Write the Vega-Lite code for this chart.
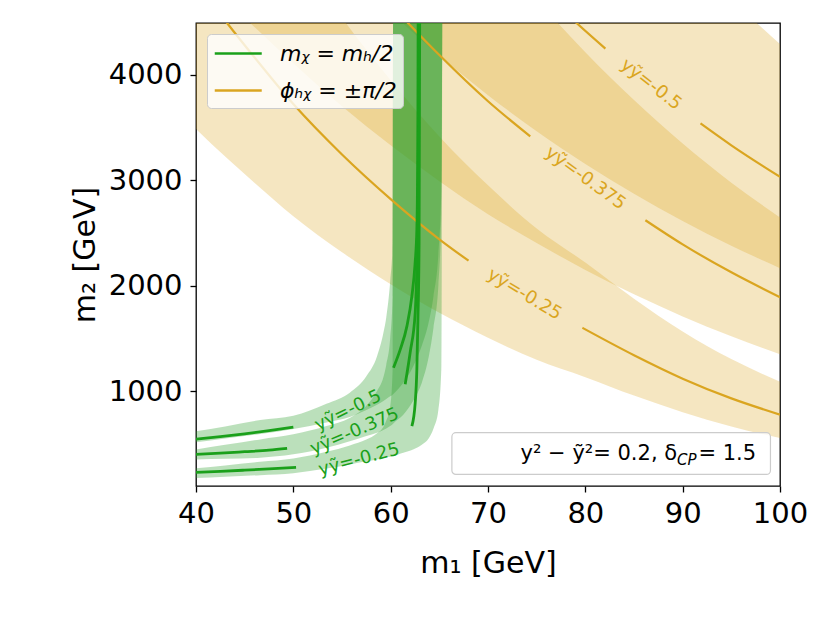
{
  "$schema": "https://vega.github.io/schema/vega-lite/v6.json",
  "width": 584,
  "height": 463,
  "autosize": {"type": "none"},
  "padding": {"left": 196, "top": 23, "right": 50, "bottom": 137},
  "background": "white",
  "config": {
    "font": "DejaVu Sans",
    "view": {"stroke": "black", "strokeWidth": 1.3},
    "axis": {
      "domain": false, "grid": false, "tickColor": "black", "tickWidth": 1.3, "tickSize": 6,
      "labelFont": "DejaVu Sans", "labelFontSize": 29, "labelColor": "black", "labelFlush": false,
      "titleFont": "DejaVu Sans", "titleFontSize": 30, "titleFontWeight": "normal", "titleColor": "black"
    },
    "axisX": {"labelPadding": 7, "titlePadding": 20},
    "axisY": {"labelPadding": 8, "titlePadding": 8},
    "legend": {
      "orient": "top-left", "offset": 11, "padding": 6, "title": null,
      "fillColor": "rgba(255,255,255,0.8)", "strokeColor": "#cccccc", "cornerRadius": 4,
      "labelFont": "DejaVu Sans", "labelFontSize": 22, "labelFontStyle": "italic", "labelColor": "black", "labelOffset": 40,
      "symbolType": "M-1,0H3", "symbolStrokeWidth": 2.6, "symbolSize": 552, "rowPadding": 12
    }
  },
  "datasets": {
    "obands": [
      {"b": "o1", "x": 40, "y": 3486, "y2": 6832}, {"b": "o1", "x": 43.25, "y": 3202, "y2": 6276},
      {"b": "o1", "x": 46, "y": 2975, "y2": 5831}, {"b": "o1", "x": 50, "y": 2658, "y2": 5209},
      {"b": "o1", "x": 55, "y": 2316, "y2": 4540}, {"b": "o1", "x": 60, "y": 2014, "y2": 3948},
      {"b": "o1", "x": 65, "y": 1742, "y2": 3415}, {"b": "o1", "x": 70, "y": 1506, "y2": 2951},
      {"b": "o1", "x": 75, "y": 1297, "y2": 2542}, {"b": "o1", "x": 80, "y": 1132, "y2": 2219},
      {"b": "o1", "x": 85, "y": 957, "y2": 1876}, {"b": "o1", "x": 90, "y": 799, "y2": 1565},
      {"b": "o1", "x": 95, "y": 665, "y2": 1303}, {"b": "o1", "x": 100, "y": 555, "y2": 1088},
      {"b": "o2", "x": 40, "y": 4957, "y2": 9716}, {"b": "o2", "x": 45, "y": 4538, "y2": 8894},
      {"b": "o2", "x": 50, "y": 4109, "y2": 8053}, {"b": "o2", "x": 55, "y": 3701, "y2": 7255},
      {"b": "o2", "x": 60, "y": 3331, "y2": 6528}, {"b": "o2", "x": 65, "y": 2990, "y2": 5860},
      {"b": "o2", "x": 70, "y": 2677, "y2": 5247}, {"b": "o2", "x": 75, "y": 2404, "y2": 4712},
      {"b": "o2", "x": 80, "y": 2149, "y2": 4213}, {"b": "o2", "x": 85, "y": 1918, "y2": 3759},
      {"b": "o2", "x": 90, "y": 1708, "y2": 3347}, {"b": "o2", "x": 95, "y": 1519, "y2": 2976},
      {"b": "o2", "x": 100, "y": 1350, "y2": 2646},
      {"b": "o3", "x": 55, "y": 5045, "y2": 9990}, {"b": "o3", "x": 60, "y": 4593, "y2": 9100},
      {"b": "o3", "x": 65, "y": 4181, "y2": 8280}, {"b": "o3", "x": 70, "y": 3806, "y2": 7540},
      {"b": "o3", "x": 75, "y": 3464, "y2": 6860}, {"b": "o3", "x": 80, "y": 3154, "y2": 6250},
      {"b": "o3", "x": 85, "y": 2871, "y2": 5690}, {"b": "o3", "x": 90, "y": 2613, "y2": 5180},
      {"b": "o3", "x": 95, "y": 2379, "y2": 4715}, {"b": "o3", "x": 100, "y": 2165, "y2": 4290}
    ],
    "gbands": [
      {"b": "g1", "x": 40, "y": 514, "y2": 620}, {"b": "g1", "x": 43, "y": 550, "y2": 665},
      {"b": "g1", "x": 46.6, "y": 593, "y2": 725}, {"b": "g1", "x": 50, "y": 640, "y2": 765},
      {"b": "g1", "x": 53.4, "y": 703, "y2": 880}, {"b": "g1", "x": 55.8, "y": 755, "y2": 985},
      {"b": "g1", "x": 57.5, "y": 820, "y2": 1140}, {"b": "g1", "x": 58.6, "y": 870, "y2": 1330},
      {"b": "g1", "x": 59.25, "y": 905, "y2": 1550}, {"b": "g1", "x": 59.55, "y": 925, "y2": 1700},
      {"b": "g1", "x": 59.95, "y": 950, "y2": 2040}, {"b": "g1", "x": 60.2, "y": 965, "y2": 2400},
      {"b": "g1", "x": 60.25, "y": 970, "y2": 4500}, {"b": "g1", "x": 61.3, "y": 1080, "y2": 4500},
      {"b": "g1", "x": 62.3, "y": 1230, "y2": 4500}, {"b": "g1", "x": 63.2, "y": 1430, "y2": 4500},
      {"b": "g1", "x": 63.9, "y": 1650, "y2": 4500}, {"b": "g1", "x": 64.4, "y": 1900, "y2": 4500},
      {"b": "g1", "x": 64.9, "y": 2300, "y2": 4500}, {"b": "g1", "x": 65.2, "y": 2900, "y2": 4500},
      {"b": "g1", "x": 65.3, "y": 4500, "y2": 4500},
      {"b": "g2", "x": 40, "y": 352, "y2": 447}, {"b": "g2", "x": 43, "y": 358, "y2": 490},
      {"b": "g2", "x": 46.6, "y": 368, "y2": 542}, {"b": "g2", "x": 50, "y": 400, "y2": 590},
      {"b": "g2", "x": 53.4, "y": 462, "y2": 669}, {"b": "g2", "x": 55.8, "y": 525, "y2": 745},
      {"b": "g2", "x": 57.5, "y": 575, "y2": 860}, {"b": "g2", "x": 58.6, "y": 605, "y2": 1000},
      {"b": "g2", "x": 59.25, "y": 630, "y2": 1130}, {"b": "g2", "x": 59.55, "y": 645, "y2": 1250},
      {"b": "g2", "x": 59.95, "y": 670, "y2": 1500}, {"b": "g2", "x": 60.2, "y": 685, "y2": 1900},
      {"b": "g2", "x": 60.25, "y": 690, "y2": 4500}, {"b": "g2", "x": 61.3, "y": 775, "y2": 4500},
      {"b": "g2", "x": 62.3, "y": 905, "y2": 4500}, {"b": "g2", "x": 63.2, "y": 1080, "y2": 4500},
      {"b": "g2", "x": 63.9, "y": 1320, "y2": 4500}, {"b": "g2", "x": 64.4, "y": 1600, "y2": 4500},
      {"b": "g2", "x": 64.9, "y": 2000, "y2": 4500}, {"b": "g2", "x": 65.2, "y": 2700, "y2": 4500},
      {"b": "g2", "x": 65.3, "y": 4500, "y2": 4500},
      {"b": "g3", "x": 40, "y": 175, "y2": 269}, {"b": "g3", "x": 43, "y": 188, "y2": 295},
      {"b": "g3", "x": 46.6, "y": 203, "y2": 329}, {"b": "g3", "x": 50, "y": 222, "y2": 361},
      {"b": "g3", "x": 53.4, "y": 265, "y2": 424}, {"b": "g3", "x": 55.8, "y": 305, "y2": 485},
      {"b": "g3", "x": 57.5, "y": 335, "y2": 540}, {"b": "g3", "x": 58.6, "y": 352, "y2": 600},
      {"b": "g3", "x": 59.25, "y": 365, "y2": 660}, {"b": "g3", "x": 59.55, "y": 372, "y2": 720},
      {"b": "g3", "x": 59.95, "y": 378, "y2": 850}, {"b": "g3", "x": 60.2, "y": 383, "y2": 1200},
      {"b": "g3", "x": 60.25, "y": 384, "y2": 4500}, {"b": "g3", "x": 61.3, "y": 415, "y2": 4500},
      {"b": "g3", "x": 62.3, "y": 445, "y2": 4500}, {"b": "g3", "x": 63.2, "y": 490, "y2": 4500},
      {"b": "g3", "x": 63.9, "y": 550, "y2": 4500}, {"b": "g3", "x": 64.4, "y": 645, "y2": 4500},
      {"b": "g3", "x": 64.9, "y": 820, "y2": 4500}, {"b": "g3", "x": 65.2, "y": 1200, "y2": 4500},
      {"b": "g3", "x": 65.3, "y": 4500, "y2": 4500}
    ],
    "olines": [
      {"s": "ϕₕᵪ = ±π/2", "g": "o1a", "x": 40, "y": 4880}, {"s": "ϕₕᵪ = ±π/2", "g": "o1a", "x": 43.25, "y": 4483},
      {"s": "ϕₕᵪ = ±π/2", "g": "o1a", "x": 46, "y": 4165}, {"s": "ϕₕᵪ = ±π/2", "g": "o1a", "x": 50, "y": 3721},
      {"s": "ϕₕᵪ = ±π/2", "g": "o1a", "x": 55, "y": 3243}, {"s": "ϕₕᵪ = ±π/2", "g": "o1a", "x": 60, "y": 2820},
      {"s": "ϕₕᵪ = ±π/2", "g": "o1a", "x": 65, "y": 2439}, {"s": "ϕₕᵪ = ±π/2", "g": "o1a", "x": 68, "y": 2236},
      {"s": "ϕₕᵪ = ±π/2", "g": "o1b", "x": 79.7, "y": 1600}, {"s": "ϕₕᵪ = ±π/2", "g": "o1b", "x": 85, "y": 1340},
      {"s": "ϕₕᵪ = ±π/2", "g": "o1b", "x": 90, "y": 1118}, {"s": "ϕₕᵪ = ±π/2", "g": "o1b", "x": 95, "y": 931},
      {"s": "ϕₕᵪ = ±π/2", "g": "o1b", "x": 100, "y": 777},
      {"s": "ϕₕᵪ = ±π/2", "g": "o2a", "x": 60, "y": 4663}, {"s": "ϕₕᵪ = ±π/2", "g": "o2a", "x": 61.85, "y": 4483},
      {"s": "ϕₕᵪ = ±π/2", "g": "o2a", "x": 65, "y": 4186}, {"s": "ϕₕᵪ = ±π/2", "g": "o2a", "x": 70, "y": 3748},
      {"s": "ϕₕᵪ = ±π/2", "g": "o2a", "x": 74.34, "y": 3415},
      {"s": "ϕₕᵪ = ±π/2", "g": "o2b", "x": 86.17, "y": 2620}, {"s": "ϕₕᵪ = ±π/2", "g": "o2b", "x": 90, "y": 2391},
      {"s": "ϕₕᵪ = ±π/2", "g": "o2b", "x": 95, "y": 2126}, {"s": "ϕₕᵪ = ±π/2", "g": "o2b", "x": 100, "y": 1890},
      {"s": "ϕₕᵪ = ±π/2", "g": "o3a", "x": 78, "y": 4583}, {"s": "ϕₕᵪ = ±π/2", "g": "o3a", "x": 79.18, "y": 4483},
      {"s": "ϕₕᵪ = ±π/2", "g": "o3a", "x": 82.06, "y": 4247},
      {"s": "ϕₕᵪ = ±π/2", "g": "o3b", "x": 91.83, "y": 3538}, {"s": "ϕₕᵪ = ±π/2", "g": "o3b", "x": 95, "y": 3330},
      {"s": "ϕₕᵪ = ±π/2", "g": "o3b", "x": 100, "y": 3031}
    ],
    "glines": [
      {"s": "mᵪ = mₕ/2", "g": "a1", "x": 40, "y": 544}, {"s": "mᵪ = mₕ/2", "g": "a1", "x": 42.5, "y": 568},
      {"s": "mᵪ = mₕ/2", "g": "a1", "x": 45, "y": 595}, {"s": "mᵪ = mₕ/2", "g": "a1", "x": 47.5, "y": 625},
      {"s": "mᵪ = mₕ/2", "g": "a1", "x": 50, "y": 658},
      {"s": "mᵪ = mₕ/2", "g": "a2", "x": 60.29, "y": 1222}, {"s": "mᵪ = mₕ/2", "g": "a2", "x": 60.98, "y": 1393},
      {"s": "mᵪ = mₕ/2", "g": "a2", "x": 61.67, "y": 1616}, {"s": "mᵪ = mₕ/2", "g": "a2", "x": 62.18, "y": 1900},
      {"s": "mᵪ = mₕ/2", "g": "a2", "x": 62.5, "y": 2200}, {"s": "mᵪ = mₕ/2", "g": "a2", "x": 62.69, "y": 2533},
      {"s": "mᵪ = mₕ/2", "g": "a2", "x": 62.76, "y": 3000}, {"s": "mᵪ = mₕ/2", "g": "a2", "x": 62.8, "y": 3700},
      {"s": "mᵪ = mₕ/2", "g": "a2", "x": 62.82, "y": 4490},
      {"s": "mᵪ = mₕ/2", "g": "b1", "x": 40, "y": 400}, {"s": "mᵪ = mₕ/2", "g": "b1", "x": 42.5, "y": 411},
      {"s": "mᵪ = mₕ/2", "g": "b1", "x": 45, "y": 425}, {"s": "mᵪ = mₕ/2", "g": "b1", "x": 47.5, "y": 440},
      {"s": "mᵪ = mₕ/2", "g": "b1", "x": 49.36, "y": 457},
      {"s": "mᵪ = mₕ/2", "g": "b2", "x": 61.49, "y": 1064}, {"s": "mᵪ = mₕ/2", "g": "b2", "x": 62.0, "y": 1364},
      {"s": "mᵪ = mₕ/2", "g": "b2", "x": 62.52, "y": 1743}, {"s": "mᵪ = mₕ/2", "g": "b2", "x": 62.76, "y": 2533},
      {"s": "mᵪ = mₕ/2", "g": "b2", "x": 62.85, "y": 3300}, {"s": "mᵪ = mₕ/2", "g": "b2", "x": 62.88, "y": 4490},
      {"s": "mᵪ = mₕ/2", "g": "c1", "x": 40, "y": 229}, {"s": "mᵪ = mₕ/2", "g": "c1", "x": 42.5, "y": 239},
      {"s": "mᵪ = mₕ/2", "g": "c1", "x": 45, "y": 250}, {"s": "mᵪ = mₕ/2", "g": "c1", "x": 47.5, "y": 262},
      {"s": "mᵪ = mₕ/2", "g": "c1", "x": 50.28, "y": 277},
      {"s": "mᵪ = mₕ/2", "g": "c2", "x": 62.18, "y": 668}, {"s": "mᵪ = mₕ/2", "g": "c2", "x": 62.52, "y": 889},
      {"s": "mᵪ = mₕ/2", "g": "c2", "x": 62.69, "y": 1206}, {"s": "mᵪ = mₕ/2", "g": "c2", "x": 62.8, "y": 1680},
      {"s": "mᵪ = mₕ/2", "g": "c2", "x": 62.92, "y": 2400}, {"s": "mᵪ = mₕ/2", "g": "c2", "x": 62.98, "y": 4490}
    ],
    "labs": [
      {"k": "g1", "t": "yỹ=-0.5", "x": 55.63, "y": 813},
      {"k": "g2", "t": "yỹ=-0.375", "x": 56.3, "y": 614},
      {"k": "g3", "t": "yỹ=-0.25", "x": 56.76, "y": 348},
      {"k": "o1", "t": "yỹ=-0.25", "x": 73.73, "y": 1915},
      {"k": "o2", "t": "yỹ=-0.375", "x": 80.0, "y": 3016},
      {"k": "o3", "t": "yỹ=-0.5", "x": 86.74, "y": 3905}
    ],
    "box": [{"x": 66.29, "x2": 99.02, "y": 210, "y2": 606}],
    "boxtext": [
      {"k": "a", "t": "y² − ỹ²= 0.2, δ", "x": 89.43, "y": 400},
      {"k": "b", "t": "CP", "x": 89.43, "y": 400},
      {"k": "c", "t": "= 1.5", "x": 91.62, "y": 400}
    ]
  },
  "encoding": {
    "x": {
      "field": "x", "type": "quantitative",
      "scale": {"domain": [40, 100], "nice": false, "zero": false},
      "axis": {"values": [40, 50, 60, 70, 80, 90, 100], "title": "m₁ [GeV]"}
    },
    "y": {
      "field": "y", "type": "quantitative",
      "scale": {"domain": [100, 4490], "nice": false, "zero": false},
      "axis": {"values": [1000, 2000, 3000, 4000], "format": "d", "title": "m₂ [GeV]"}
    }
  },
  "layer": [
    {
      "data": {"name": "obands"},
      "mark": {"type": "area", "color": "#daa520", "opacity": 0.28, "interpolate": "monotone", "clip": true},
      "encoding": {"y2": {"field": "y2"}, "detail": {"field": "b"}}
    },
    {
      "data": {"name": "gbands"},
      "mark": {"type": "area", "color": "#2ca02c", "opacity": 0.32, "interpolate": "monotone", "clip": true},
      "encoding": {"y2": {"field": "y2"}, "detail": {"field": "b"}}
    },
    {
      "data": {"name": "olines"},
      "mark": {"type": "line", "strokeWidth": 2.2, "interpolate": "monotone", "clip": true},
      "encoding": {
        "detail": {"field": "g"},
        "color": {"field": "s", "type": "nominal", "scale": {"domain": ["mᵪ = mₕ/2", "ϕₕᵪ = ±π/2"], "range": ["#1aa01a", "#daa520"]}}
      }
    },
    {
      "data": {"name": "glines"},
      "mark": {"type": "line", "strokeWidth": 2.8, "interpolate": "monotone", "clip": true},
      "encoding": {
        "detail": {"field": "g"},
        "color": {"field": "s", "type": "nominal", "scale": {"domain": ["mᵪ = mₕ/2", "ϕₕᵪ = ±π/2"], "range": ["#1aa01a", "#daa520"]}}
      }
    },
    {
      "data": {"name": "labs"},
      "transform": [{"filter": "datum.k == 'g1'"}],
      "mark": {"type": "text", "color": "#1aa01a", "fontSize": 18, "angle": 334, "baseline": "middle"},
      "encoding": {"text": {"field": "t"}}
    },
    {
      "data": {"name": "labs"},
      "transform": [{"filter": "datum.k == 'g2'"}],
      "mark": {"type": "text", "color": "#1aa01a", "fontSize": 18, "angle": 337, "baseline": "middle"},
      "encoding": {"text": {"field": "t"}}
    },
    {
      "data": {"name": "labs"},
      "transform": [{"filter": "datum.k == 'g3'"}],
      "mark": {"type": "text", "color": "#1aa01a", "fontSize": 18, "angle": 345, "baseline": "middle"},
      "encoding": {"text": {"field": "t"}}
    },
    {
      "data": {"name": "labs"},
      "transform": [{"filter": "datum.k == 'o1'"}],
      "mark": {"type": "text", "color": "#daa520", "fontSize": 18, "angle": 31, "baseline": "middle"},
      "encoding": {"text": {"field": "t"}}
    },
    {
      "data": {"name": "labs"},
      "transform": [{"filter": "datum.k == 'o2'"}],
      "mark": {"type": "text", "color": "#daa520", "fontSize": 18, "angle": 36, "baseline": "middle"},
      "encoding": {"text": {"field": "t"}}
    },
    {
      "data": {"name": "labs"},
      "transform": [{"filter": "datum.k == 'o3'"}],
      "mark": {"type": "text", "color": "#daa520", "fontSize": 18, "angle": 38, "baseline": "middle"},
      "encoding": {"text": {"field": "t"}}
    },
    {
      "data": {"name": "box"},
      "mark": {"type": "rect", "fill": "white", "fillOpacity": 0.8, "stroke": "#cccccc", "strokeWidth": 1.2, "cornerRadius": 4},
      "encoding": {"x2": {"field": "x2"}, "y2": {"field": "y2"}}
    },
    {
      "data": {"name": "boxtext"},
      "transform": [{"filter": "datum.k == 'a'"}],
      "mark": {"type": "text", "color": "black", "fontSize": 21, "align": "right", "baseline": "middle"},
      "encoding": {"text": {"field": "t"}}
    },
    {
      "data": {"name": "boxtext"},
      "transform": [{"filter": "datum.k == 'b'"}],
      "mark": {"type": "text", "color": "black", "fontSize": 15, "fontStyle": "italic", "align": "left", "baseline": "middle", "dy": 6},
      "encoding": {"text": {"field": "t"}}
    },
    {
      "data": {"name": "boxtext"},
      "transform": [{"filter": "datum.k == 'c'"}],
      "mark": {"type": "text", "color": "black", "fontSize": 21, "align": "left", "baseline": "middle"},
      "encoding": {"text": {"field": "t"}}
    }
  ]
}
